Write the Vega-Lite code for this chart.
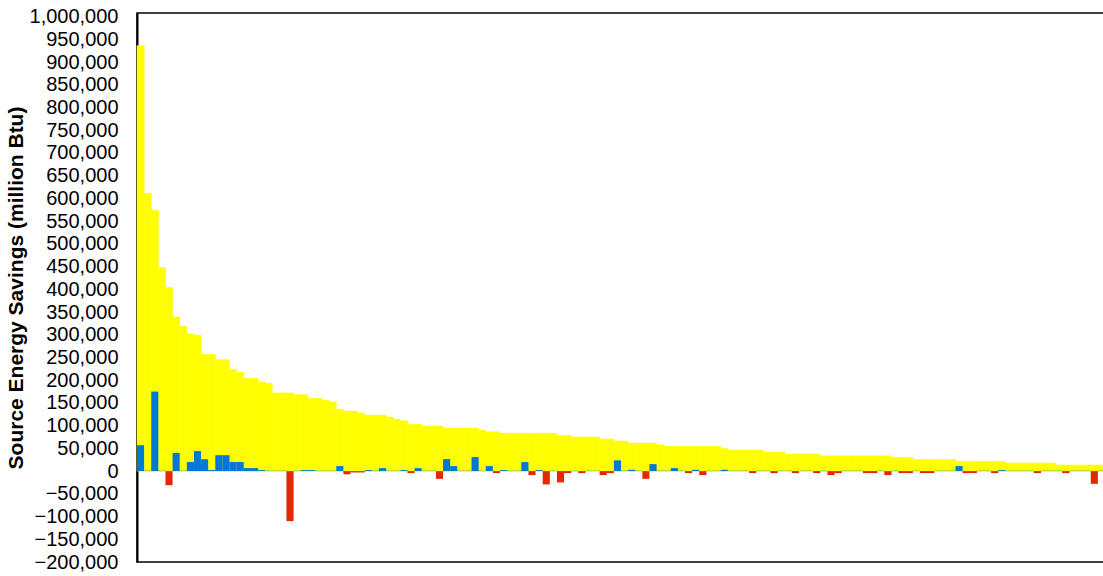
{
  "$schema": "https://vega.github.io/schema/vega-lite/v6.json",
  "autosize": "none",
  "padding": {"left": 137, "top": 13, "right": 0, "bottom": 14},
  "width": 968,
  "height": 549,
  "background": "#ffffff",
  "config": {
    "view": {"stroke": "#000000", "strokeWidth": 1.5},
    "axisY": {
      "grid": false, "ticks": false, "domain": true, "domainColor": "#000000", "domainWidth": 2,
      "labelFont": "Liberation Sans", "labelFontSize": 20, "labelColor": "#000000", "labelPadding": 19,
      "titleFont": "Liberation Sans", "titleFontSize": 21, "titleFontWeight": "bold", "titleColor": "#000000", "titlePadding": 3
    }
  },
  "data": {"values": [
    {"bar":0,"total":936000,"change":57000},{"bar":1,"total":611000,"change":800},{"bar":2,"total":574000,"change":175000},{"bar":3,"total":448000,"change":800},
    {"bar":4,"total":404000,"change":-31000},{"bar":5,"total":339000,"change":40000},{"bar":6,"total":319000,"change":800},{"bar":7,"total":302000,"change":20000},
    {"bar":8,"total":299000,"change":44000},{"bar":9,"total":257000,"change":26000},{"bar":10,"total":257000,"change":2500},{"bar":11,"total":245000,"change":35000},
    {"bar":12,"total":245000,"change":35000},{"bar":13,"total":224000,"change":20000},{"bar":14,"total":217000,"change":20000},{"bar":15,"total":204000,"change":6600},
    {"bar":16,"total":204000,"change":6600},{"bar":17,"total":196000,"change":2200},{"bar":18,"total":193000,"change":800},{"bar":19,"total":172000,"change":800},
    {"bar":20,"total":172000,"change":800},{"bar":21,"total":172000,"change":-110000},{"bar":22,"total":168000,"change":800},{"bar":23,"total":168000,"change":2200},
    {"bar":24,"total":160000,"change":2200},{"bar":25,"total":160000,"change":800},{"bar":26,"total":156000,"change":800},{"bar":27,"total":152000,"change":800},
    {"bar":28,"total":136000,"change":11000},{"bar":29,"total":132000,"change":-7000},{"bar":30,"total":132000,"change":-3000},{"bar":31,"total":128000,"change":-3000},
    {"bar":32,"total":123000,"change":2200},{"bar":33,"total":123000,"change":800},{"bar":34,"total":123000,"change":6600},{"bar":35,"total":119000,"change":800},
    {"bar":36,"total":114000,"change":800},{"bar":37,"total":111000,"change":2200},{"bar":38,"total":103000,"change":-4400},{"bar":39,"total":103000,"change":6600},
    {"bar":40,"total":99000,"change":800},{"bar":41,"total":99000,"change":800},{"bar":42,"total":99000,"change":-17000},{"bar":43,"total":94500,"change":26400},
    {"bar":44,"total":94500,"change":11000},{"bar":45,"total":94500,"change":800},{"bar":46,"total":94500,"change":800},{"bar":47,"total":94500,"change":30800},
    {"bar":48,"total":90000,"change":800},{"bar":49,"total":86500,"change":11000},{"bar":50,"total":86500,"change":-4400},{"bar":51,"total":83000,"change":2200},
    {"bar":52,"total":83000,"change":800},{"bar":53,"total":83000,"change":800},{"bar":54,"total":83000,"change":19800},{"bar":55,"total":83000,"change":-8800},
    {"bar":56,"total":83000,"change":2200},{"bar":57,"total":83000,"change":-29300},{"bar":58,"total":83000,"change":800},{"bar":59,"total":78500,"change":-25000},
    {"bar":60,"total":78500,"change":-4400},{"bar":61,"total":75000,"change":800},{"bar":62,"total":75000,"change":-4400},{"bar":63,"total":75000,"change":800},
    {"bar":64,"total":75000,"change":800},{"bar":65,"total":70300,"change":-8800},{"bar":66,"total":70300,"change":-4400},{"bar":67,"total":66000,"change":23500},
    {"bar":68,"total":66000,"change":800},{"bar":69,"total":61500,"change":2900},{"bar":70,"total":61500,"change":800},{"bar":71,"total":61500,"change":-17000},
    {"bar":72,"total":61500,"change":15400},{"bar":73,"total":58000,"change":800},{"bar":74,"total":54300,"change":800},{"bar":75,"total":54300,"change":6600},
    {"bar":76,"total":54300,"change":800},{"bar":77,"total":54300,"change":-4400},{"bar":78,"total":54300,"change":2900},{"bar":79,"total":54300,"change":-8800},
    {"bar":80,"total":54300,"change":800},{"bar":81,"total":54300,"change":800},{"bar":82,"total":50000,"change":2900},{"bar":83,"total":46200,"change":800},
    {"bar":84,"total":46200,"change":800},{"bar":85,"total":46200,"change":800},{"bar":86,"total":46200,"change":-4400},{"bar":87,"total":46200,"change":800},
    {"bar":88,"total":41800,"change":800},{"bar":89,"total":41800,"change":-4400},{"bar":90,"total":41800,"change":800},{"bar":91,"total":37400,"change":800},
    {"bar":92,"total":37400,"change":-4400},{"bar":93,"total":37400,"change":800},{"bar":94,"total":37400,"change":800},{"bar":95,"total":37400,"change":-4400},
    {"bar":96,"total":33600,"change":800},{"bar":97,"total":33600,"change":-8800},{"bar":98,"total":33600,"change":-4400},{"bar":99,"total":33600,"change":800},
    {"bar":100,"total":33600,"change":800},{"bar":101,"total":33600,"change":800},{"bar":102,"total":33600,"change":-4400},{"bar":103,"total":33600,"change":-4400},
    {"bar":104,"total":33600,"change":800},{"bar":105,"total":33600,"change":-8800},{"bar":106,"total":30100,"change":800},{"bar":107,"total":30100,"change":-4400},
    {"bar":108,"total":30100,"change":-4400},{"bar":109,"total":25700,"change":800},{"bar":110,"total":25700,"change":-4400},{"bar":111,"total":25700,"change":-4400},
    {"bar":112,"total":25700,"change":800},{"bar":113,"total":25700,"change":800},{"bar":114,"total":25700,"change":800},{"bar":115,"total":21300,"change":11000},
    {"bar":116,"total":21300,"change":-4400},{"bar":117,"total":21300,"change":-4400},{"bar":118,"total":21300,"change":800},{"bar":119,"total":21300,"change":800},
    {"bar":120,"total":21300,"change":-4400},{"bar":121,"total":21300,"change":2200},{"bar":122,"total":17600,"change":800},{"bar":123,"total":17600,"change":800},
    {"bar":124,"total":17600,"change":800},{"bar":125,"total":17600,"change":800},{"bar":126,"total":17600,"change":-4400},{"bar":127,"total":17600,"change":800},
    {"bar":128,"total":17600,"change":800},{"bar":129,"total":13200,"change":800},{"bar":130,"total":13200,"change":-4400},{"bar":131,"total":13200,"change":800},
    {"bar":132,"total":13200,"change":800},{"bar":133,"total":13200,"change":800},{"bar":134,"total":13200,"change":-28000},{"bar":135,"total":13200,"change":800}
  ]},
  "encoding": {
    "x": {"field": "bar", "type": "ordinal", "axis": null, "sort": null, "scale": {"paddingInner": 0, "paddingOuter": 0}}
  },
  "layer": [
    {
      "mark": {"type": "bar", "color": "#FFFF00", "stroke": "#FFFF00", "strokeWidth": 0.6},
      "encoding": {
        "y": {
          "field": "total", "type": "quantitative",
          "scale": {"domain": [-200000, 1008000], "nice": false, "zero": false},
          "axis": {
            "values": [-200000,-150000,-100000,-50000,0,50000,100000,150000,200000,250000,300000,350000,400000,450000,500000,550000,600000,650000,700000,750000,800000,850000,900000,950000,1000000],
            "format": ",.0f",
            "title": "Source Energy Savings (million Btu)"
          }
        }
      }
    },
    {
      "mark": {"type": "bar"},
      "encoding": {
        "y": {
          "field": "change", "type": "quantitative",
          "axis": {
            "values": [-200000,-150000,-100000,-50000,0,50000,100000,150000,200000,250000,300000,350000,400000,450000,500000,550000,600000,650000,700000,750000,800000,850000,900000,950000,1000000],
            "format": ",.0f",
            "title": "Source Energy Savings (million Btu)"
          }
        },
        "color": {"condition": {"test": "datum.change < 0", "value": "#E62800"}, "value": "#0078D7"}
      }
    }
  ]
}
